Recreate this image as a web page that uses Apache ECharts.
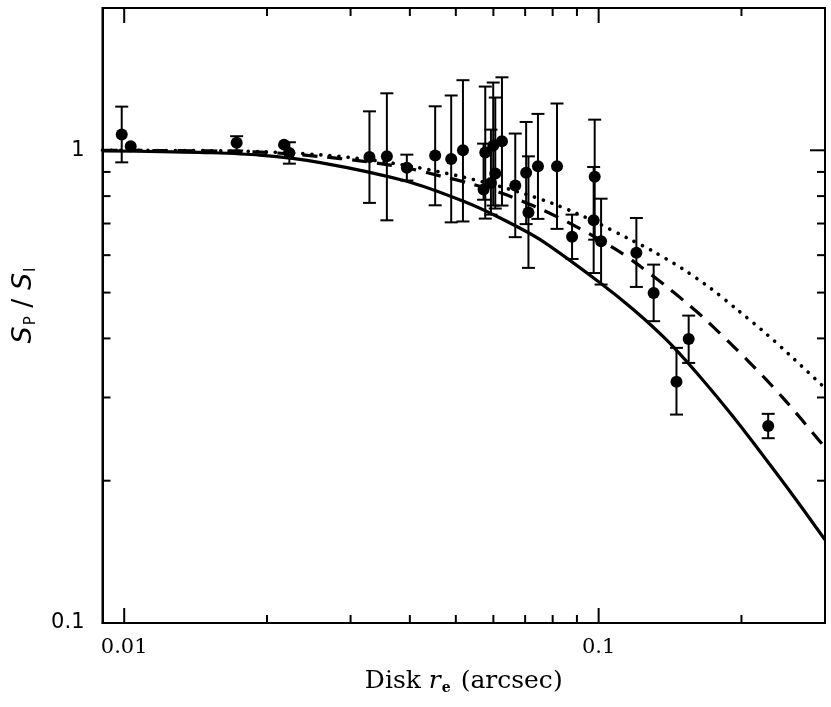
<!DOCTYPE html>
<html>
<head>
<meta charset="utf-8">
<script src="https://cdn.jsdelivr.net/npm/echarts@6/dist/echarts.min.js"></script>
<style>
html,body{margin:0;padding:0;background:#fff;}
#chart{width:831px;height:707px;}
</style>
</head>
<body>
<div id="chart"></div>
<script>
// ---- data ----
const ptX = [0.00988, 0.01032, 0.01726, 0.02172, 0.02229, 0.03288, 0.03578, 0.03942, 0.04523, 0.04889, 0.05176, 0.05768, 0.05995, 0.06255, 0.06055, 0.05929, 0.05721, 0.06672, 0.07034, 0.07113, 0.07449, 0.08171, 0.0879, 0.0981, 0.09761, 0.1012, 0.1201, 0.1306, 0.1459, 0.1548, 0.2277];
const ptY = [1.080, 1.020, 1.037, 1.028, 0.987, 0.968, 0.971, 0.918, 0.975, 0.959, 1.000, 0.989, 1.023, 1.045, 0.893, 0.853, 0.826, 0.842, 0.896, 0.739, 0.925, 0.925, 0.656, 0.879, 0.711, 0.642, 0.607, 0.499, 0.324, 0.399, 0.261];
const errHi = [1.237, 1.020, 1.071, 1.028, 1.040, 1.209, 1.320, 0.979, 1.239, 1.306, 1.407, 1.364, 1.391, 1.427, 1.293, 1.106, 1.033, 1.085, 1.148, 0.971, 1.194, 1.256, 0.731, 1.161, 0.922, 0.790, 0.719, 0.573, 0.382, 0.447, 0.277];
const errLo = [0.943, 1.020, 0.999, 1.028, 0.937, 0.774, 0.711, 0.863, 0.765, 0.704, 0.707, 0.717, 0.764, 0.764, 0.753, 0.731, 0.786, 0.655, 0.698, 0.564, 0.716, 0.682, 0.589, 0.647, 0.550, 0.520, 0.514, 0.435, 0.276, 0.355, 0.246];

const solidX = [0.009, 0.012, 0.0144, 0.0193, 0.0259, 0.0394, 0.0519, 0.0620, 0.0753, 0.1008, 0.1185, 0.1394, 0.1639, 0.1927, 0.2229, 0.258, 0.3];
const solidY = [0.997, 0.994, 0.990, 0.977, 0.942, 0.860, 0.780, 0.719, 0.647, 0.524, 0.460, 0.396, 0.331, 0.272, 0.225, 0.185, 0.150];

const dashX = [0.009, 0.015, 0.02, 0.0259, 0.0314, 0.0369, 0.0406, 0.0468, 0.0531, 0.0626, 0.0753, 0.0879, 0.1085, 0.1225, 0.1383, 0.1537, 0.1665, 0.2057, 0.2457, 0.30];
const dashY = [1.000, 0.997, 0.990, 0.970, 0.950, 0.928, 0.912, 0.880, 0.853, 0.811, 0.752, 0.697, 0.618, 0.568, 0.517, 0.474, 0.442, 0.360, 0.298, 0.235];

const dotX = [0.009, 0.015, 0.02, 0.026, 0.033, 0.041, 0.050, 0.060, 0.070, 0.080, 0.090, 0.100, 0.115, 0.130, 0.150, 0.172, 0.196, 0.225, 0.252, 0.30];
const dotY = [1.000, 0.998, 0.992, 0.978, 0.955, 0.922, 0.885, 0.846, 0.808, 0.772, 0.735, 0.700, 0.652, 0.612, 0.562, 0.511, 0.460, 0.410, 0.370, 0.314];

const xMajorTicks = [0.01, 0.1];
const xMinorTicks = [0.02, 0.03, 0.04, 0.05, 0.06, 0.07, 0.08, 0.09, 0.2];
const yMajorTicks = [0.1, 1];
const yMinorTicks = [0.2, 0.3, 0.4, 0.5, 0.6, 0.7, 0.8, 0.9];
const xTickLabels = {0.01: '0.01', 0.1: '0.1'};
const yTickLabels = {0.1: '0.1', 1: '1'};

// ---- chart ----
const chart = echarts.init(document.getElementById('chart'), null, {renderer: 'canvas'});

function zip(a, b) { return a.map((v, i) => [v, b[i]]); }

function xTickSeries(vals, len) {
  return {
    type: 'custom', silent: true, z: 5,
    data: vals.map(v => [v, 1]),
    renderItem: function (params, api) {
      const cs = params.coordSys;
      const px = api.coord([api.value(0), 1])[0];
      const st = {stroke: '#000', lineWidth: 2};
      return {type: 'group', children: [
        {type: 'line', shape: {x1: px, y1: cs.y + cs.height, x2: px, y2: cs.y + cs.height - len}, style: st},
        {type: 'line', shape: {x1: px, y1: cs.y, x2: px, y2: cs.y + len}, style: st}
      ]};
    }
  };
}
function yTickSeries(vals, len) {
  return {
    type: 'custom', silent: true, z: 5,
    data: vals.map(v => [0.05, v]),
    renderItem: function (params, api) {
      const cs = params.coordSys;
      const py = api.coord([0.05, api.value(1)])[1];
      const st = {stroke: '#000', lineWidth: 2};
      return {type: 'group', children: [
        {type: 'line', shape: {x1: cs.x, y1: py, x2: cs.x + len, y2: py}, style: st},
        {type: 'line', shape: {x1: cs.x + cs.width, y1: py, x2: cs.x + cs.width - len, y2: py}, style: st}
      ]};
    }
  };
}

const errData = ptX.map((x, i) => [x, ptY[i], errLo[i], errHi[i]]);

const option = {
  animation: false,
  backgroundColor: '#fff',
  grid: {left: 102.5, right: 6, top: 8, bottom: 84, containLabel: false, outerBoundsMode: 'none',
         show: true, borderColor: '#000', borderWidth: 2, backgroundColor: 'transparent'},
  xAxis: {
    type: 'log', logBase: 10, min: 0.009, max: 0.3,
    axisLine: {show: true, lineStyle: {color: '#000', width: 2}},
    axisTick: {show: false}, minorTick: {show: false}, splitLine: {show: false},
    axisLabel: {
      color: '#000', fontFamily: 'DejaVu Serif', fontSize: 21, margin: 14,
      showMinLabel: false, showMaxLabel: false,
      formatter: function (v) { const k = +(+v).toPrecision(3); return xTickLabels[k] || ''; }
    },
    name: '{t|Disk }{i|r}{s|e}{t| (arcsec)}',
    nameLocation: 'middle', nameGap: 44,
    nameTextStyle: {
      rich: {
        t: {fontFamily: 'DejaVu Serif', fontSize: 25, color: '#000'},
        i: {fontFamily: 'DejaVu Serif', fontStyle: 'italic', fontSize: 25, color: '#000'},
        s: {fontFamily: 'DejaVu Serif', fontSize: 14, color: '#000', fontWeight: 'bold', padding: [14, 2, 0, 1]}
      }
    }
  },
  yAxis: {
    type: 'log', logBase: 10, min: 0.1, max: 2,
    axisLine: {show: true, lineStyle: {color: '#000', width: 2}},
    axisTick: {show: false}, minorTick: {show: false}, splitLine: {show: false},
    axisLabel: {
      color: '#000', fontFamily: 'DejaVu Sans', fontSize: 21, margin: 18,
      showMinLabel: true, showMaxLabel: false,
      formatter: function (v) { const k = +(+v).toPrecision(3); return yTickLabels[k] || ''; }
    },
    name: '{s|S}{b|P}{t| / }{s|S}{b|I}',
    nameLocation: 'middle', nameGap: 64, nameRotate: 90,
    nameTextStyle: {
      padding: [0, 0, 0, 20],
      rich: {
        s: {fontFamily: 'DejaVu Sans', fontStyle: 'italic', fontSize: 27, color: '#000'},
        t: {fontFamily: 'DejaVu Sans', fontSize: 27, color: '#000'},
        b: {fontFamily: 'DejaVu Sans', fontSize: 15, color: '#000', padding: [14, 0, 0, 1]}
      }
    }
  },
  series: [
    xTickSeries(xMajorTicks, 15),
    xTickSeries(xMinorTicks, 8),
    yTickSeries(yMajorTicks, 15),
    yTickSeries(yMinorTicks, 8),
    {
      type: 'line', data: zip(solidX, solidY), smooth: 0.3, showSymbol: false, silent: true, z: 2,
      lineStyle: {color: '#000', width: 3.2}
    },
    {
      type: 'line', data: zip(dashX, dashY), smooth: 0.3, showSymbol: false, silent: true, z: 2,
      lineStyle: {color: '#000', width: 3.2, type: [15, 10]}
    },
    {
      type: 'line', data: zip(dotX, dotY), smooth: 0.3, showSymbol: false, silent: true, z: 2,
      lineStyle: {color: '#000', width: 3.6, type: [0.1, 9], cap: 'round'}
    },
    {
      type: 'custom', silent: true, z: 3,
      data: errData,
      encode: {x: 0, y: 1},
      renderItem: function (params, api) {
        const x = api.value(0), lo = api.value(2), hi = api.value(3);
        if (Math.abs(hi - lo) < 1e-6) return null;
        const p1 = api.coord([x, hi]);
        const p2 = api.coord([x, lo]);
        const hw = 6.5;
        const st = {stroke: '#000', lineWidth: 2};
        return {type: 'group', children: [
          {type: 'line', shape: {x1: p1[0], y1: p1[1], x2: p2[0], y2: p2[1]}, style: st},
          {type: 'line', shape: {x1: p1[0] - hw, y1: p1[1], x2: p1[0] + hw, y2: p1[1]}, style: st},
          {type: 'line', shape: {x1: p2[0] - hw, y1: p2[1], x2: p2[0] + hw, y2: p2[1]}, style: st}
        ]};
      }
    },
    {
      type: 'scatter', data: zip(ptX, ptY), symbol: 'circle', symbolSize: 12, z: 4, silent: true,
      itemStyle: {color: '#000', opacity: 1}
    }
  ]
};
chart.setOption(option);
</script>
</body>
</html>
